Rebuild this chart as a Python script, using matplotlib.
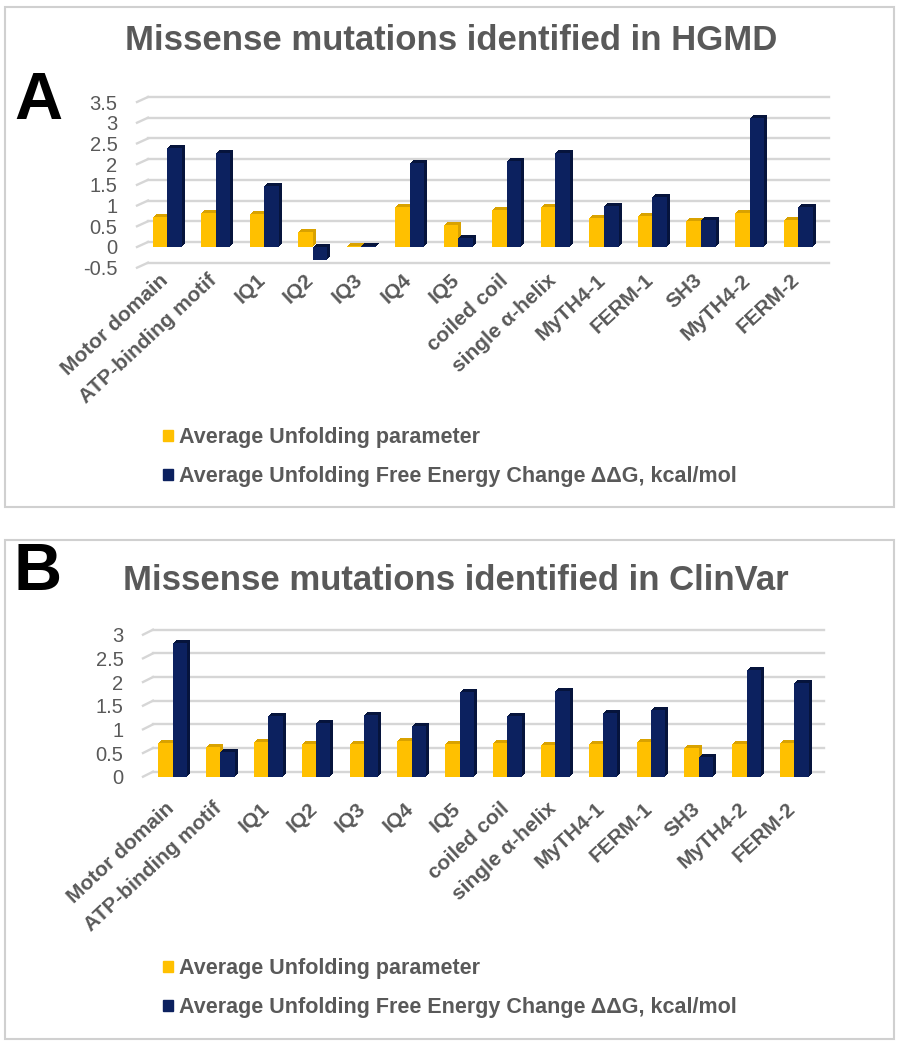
import matplotlib as mpl

mpl.use('Agg')
import matplotlib.pyplot as plt
from matplotlib.patches import Rectangle, Patch
from matplotlib.transforms import offset_copy, ScaledTranslation

plt.rcParams['font.family'] = ['Liberation Sans', 'DejaVu Sans']
plt.rcParams['axes.unicode_minus'] = False

# 数据
domains = ['Motor domain', 'ATP-binding motif', 'IQ1', 'IQ2', 'IQ3', 'IQ4', 'IQ5',
           'coiled coil', 'single α-helix', 'MyTH4-1', 'FERM-1', 'SH3', 'MyTH4-2', 'FERM-2']

hgmd_unfold = [0.73, 0.81, 0.79, 0.35, 0.03, 0.97, 0.52, 0.89, 0.97, 0.71, 0.76, 0.63, 0.82, 0.65]
hgmd_ddg = [2.38, 2.27, 1.48, -0.32, 0.02, 2.03, 0.21, 2.07, 2.27, 1.00, 1.21, 0.66, 3.12, 0.97]
clinvar_unfold = [0.72, 0.62, 0.74, 0.70, 0.69, 0.76, 0.70, 0.72, 0.67, 0.69, 0.74, 0.61, 0.70, 0.72]
clinvar_ddg = [2.82, 0.53, 1.29, 1.14, 1.30, 1.07, 1.80, 1.29, 1.81, 1.34, 1.41, 0.41, 2.25, 1.97]

hgmd_ticks = [-0.5, 0, 0.5, 1, 1.5, 2, 2.5, 3, 3.5]
clinvar_ticks = [0, 0.5, 1, 1.5, 2, 2.5, 3]

legend_labels = ['Average Unfolding parameter',
                 'Average Unfolding Free Energy Change ΔΔG, kcal/mol']

YELLOW = '#FFC000'
YELLOW_DARK = '#D9A200'
NAVY = '#0C215F'
NAVY_DARK = '#06143C'
GRID = '#D6D6D6'
TEXT = '#595959'

W, H = 902, 1050


def draw_panel(fig, rect, ylim, ticks, unfold, ddg, label_pad, grid_shift):
    ax = fig.add_axes(rect)
    ax.set_xlim(-0.62, 13.41)
    ax.set_ylim(ylim)
    ax.patch.set_alpha(0)
    for s in ax.spines.values():
        s.set_visible(False)

    # 背面网格线 + 左侧斜线
    back = offset_copy(ax.transData, fig=fig, x=grid_shift[0], y=grid_shift[1], units='dots')
    x0, x1 = ax.get_xlim()
    for t in ticks:
        ax.plot([x0, x1], [t, t], color=GRID, lw=1.7, transform=back, clip_on=False, zorder=0)
        p = ax.transData.transform((x0, t))
        q = ax.transData.inverted().transform((p[0] + grid_shift[0], p[1] + grid_shift[1]))
        ax.plot([x0, q[0]], [t, q[1]], color=GRID, lw=1.7, clip_on=False, zorder=0)

    xs = list(range(len(domains)))
    w = 0.3
    xs_y = [x - w for x in xs]
    # 伪3D：偏移的暗色副本作为顶面和侧面
    for k in range(3, 0, -1):
        tr = offset_copy(ax.transData, fig=fig, x=k, y=k, units='dots')
        ax.bar(xs_y, unfold, width=w, align='edge', color=YELLOW_DARK, lw=0,
               transform=tr, zorder=2, clip_on=False)
        ax.bar(xs, ddg, width=w, align='edge', color=NAVY_DARK, lw=0,
               transform=tr, zorder=2, clip_on=False)
    ax.bar(xs_y, unfold, width=w, align='edge', color=YELLOW, lw=0, zorder=3, clip_on=False)
    ax.bar(xs, ddg, width=w, align='edge', color=NAVY, lw=0, zorder=3, clip_on=False)

    ax.set_yticks(ticks, labels=['{:g}'.format(t) for t in ticks])
    ax.tick_params(axis='y', length=0, pad=14, labelsize=14.5, labelcolor=TEXT)
    ax.set_xticks(xs, labels=domains, rotation=43, ha='right', rotation_mode='anchor',
                  fontweight='bold')
    ax.tick_params(axis='x', length=0, pad=label_pad, labelsize=15, labelcolor=TEXT)
    shift = ScaledTranslation(-8 / 100, 0, fig.dpi_scale_trans)
    for lab in ax.get_xticklabels():
        lab.set_transform(lab.get_transform() + shift)
    return ax


def Draw():
    fig = plt.figure(figsize=(W / 100, H / 100), dpi=100)

    # 面板边框
    for top, bottom in [(7, 507), (540, 1039)]:
        fig.add_artist(Rectangle((5 / W, 1 - bottom / H), 889 / W, (bottom - top) / H,
                                 transform=fig.transFigure, fill=False,
                                 edgecolor='#D0D0D0', lw=1.5))

    draw_panel(fig, [137 / W, 1 - 267.7 / H, 681 / W, 165.7 / H], (-0.5, 3.5),
               hgmd_ticks, hgmd_unfold, hgmd_ddg, 2, (11, 5))
    draw_panel(fig, [143 / W, 1 - 776.7 / H, 671 / W, 142 / H], (0, 3),
               clinvar_ticks, clinvar_unfold, clinvar_ddg, 16, (10, 5))

    fig.text(0.5, 1 - 40 / H, 'Missense mutations identified in HGMD', ha='center',
             va='center', fontsize=25, fontweight='bold', color=TEXT)
    fig.text(0.505, 1 - 580 / H, 'Missense mutations identified in ClinVar', ha='center',
             va='center', fontsize=25, fontweight='bold', color=TEXT)
    fig.text(14 / W, 1 - 71 / H, 'A', ha='left', va='top', fontsize=48,
             fontweight='bold', color='black')
    fig.text(14 / W, 1 - 542 / H, 'B', ha='left', va='top', fontsize=48,
             fontweight='bold', color='black')

    handles = [Patch(color=YELLOW), Patch(color=NAVY)]
    for ytop in [427, 958]:
        fig.legend(handles=handles, labels=legend_labels, loc='upper left',
                   bbox_to_anchor=(163 / W, 1 - ytop / H), frameon=False,
                   prop={'weight': 'bold', 'size': 15.5}, labelcolor=TEXT,
                   handlelength=0.45, handleheight=0.45, handletextpad=0.3,
                   borderpad=0, borderaxespad=0, labelspacing=0.85)

    fig.savefig('out.png', dpi=100)


if __name__ == "__main__":
    Draw()
